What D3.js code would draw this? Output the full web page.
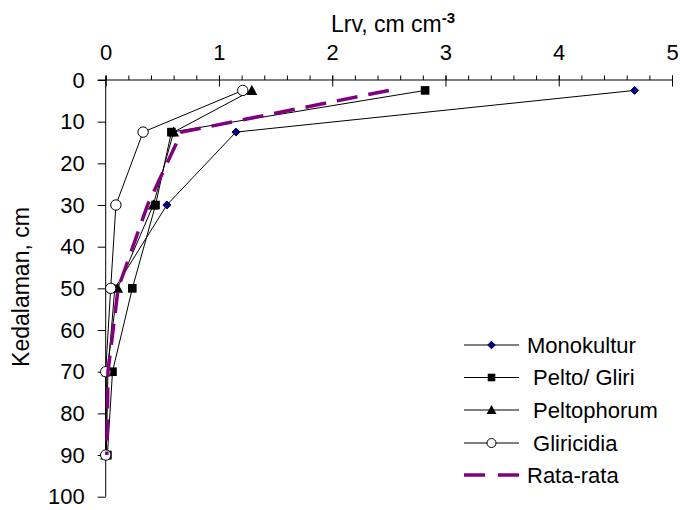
<!DOCTYPE html>
<html>
<head>
<meta charset="utf-8">
<script src="https://cdn.jsdelivr.net/npm/d3@7"></script>
<style>
  html, body { margin: 0; padding: 0; background: #fff; }
  svg { display: block; font-family: "Liberation Sans", Arial, sans-serif; }
</style>
</head>
<body>
<svg id="chart" width="680" height="510"></svg>
<script>
// ---- data ----
const depths = [2.5, 12.5, 30, 50, 70, 90];
const monokultur  = [4.67, 1.15, 0.54, 0.08, 0.02, 0.005];
const peltoGliri  = [2.82, 0.58, 0.44, 0.235, 0.06, 0.015];
const peltophorum = [1.29, 0.60, 0.42, 0.105, 0.01, 0.0];
const gliricidia  = [1.21, 0.33, 0.09, 0.044, 0.0, 0.0];
const rataRata    = [2.50, 0.67, 0.37, 0.11, 0.02, 0.01];
const seriesNames = ["Monokultur", " Pelto/ Gliri", " Peltophorum", " Gliricidia", "Rata-rata"];
const xMajorTicks = [0, 1, 2, 3, 4, 5];
const yTicks = [0, 10, 20, 30, 40, 50, 60, 70, 80, 90, 100];

const svg = d3.select("#chart");
const x = d3.scaleLinear().domain([0, 5]).range([105.7, 672]);
const y = d3.scaleLinear().domain([0, 100]).range([80, 496.7]);

const series = [
  {name: seriesNames[0], vals: monokultur, marker: "diamond"},
  {name: seriesNames[1], vals: peltoGliri, marker: "square"},
  {name: seriesNames[2], vals: peltophorum, marker: "triangle"},
  {name: seriesNames[3], vals: gliricidia, marker: "circle"},
];

// ---- axes ----
const xMinor = svg.append("g").attr("transform", `translate(0,${y(0)})`)
  .call(d3.axisTop(x).tickValues(d3.range(0, 26).map(i => i / 5)).tickSize(4.5).tickFormat(""));
const xMajor = svg.append("g").attr("transform", `translate(0,${y(0)})`)
  .call(d3.axisTop(x).tickValues(xMajorTicks).tickSize(4.5).tickPadding(16).tickFormat(d3.format("d")));
const xMajorDown = svg.append("g").attr("transform", `translate(0,${y(0)})`)
  .call(d3.axisTop(x).tickValues(xMajorTicks).tickSize(-6.5).tickFormat(""));
xMajorDown.select(".domain").remove();
xMinor.select(".domain").attr("d", `M${x(0) - 8},0H${x(5)}`);
xMajor.select(".domain").remove();
[xMinor, xMajor, xMajorDown].forEach(g => {
  g.selectAll("line").attr("stroke", "#000").attr("stroke-width", 1);
  g.selectAll("path").attr("stroke", "#000");
});
xMajor.selectAll("text").attr("font-size", 22).attr("fill", "#000").attr("font-family", "Liberation Sans, Arial");

const yAxis = svg.append("g").attr("transform", `translate(${x(0)},0)`)
  .call(d3.axisLeft(y).tickValues(yTicks).tickSize(8).tickPadding(13));
yAxis.select(".domain").attr("d", `M0,${y(0) - 4}V${y(100)}`).attr("stroke", "#000");
yAxis.selectAll("line").attr("stroke", "#000");
yAxis.selectAll("text").attr("font-size", 22).attr("fill", "#000").attr("font-family", "Liberation Sans, Arial");

// ---- titles ----
const xt = svg.append("text").attr("x", 331).attr("y", 32).attr("font-size", 23).attr("fill", "#000");
xt.append("tspan").text("Lrv, cm cm");
xt.append("tspan").text("-3").attr("font-size", 15).attr("font-weight", "bold").attr("dy", -9);

svg.append("text").attr("transform", `translate(29,287) rotate(-90)`)
  .attr("text-anchor", "middle").attr("font-size", 23).attr("fill", "#000")
  .text("Kedalaman, cm");

// ---- markers ----
function drawMarker(g, type, cx, cy, s) {
  if (type === "diamond") {
    g.append("path").attr("d", `M${cx},${cy - s}L${cx + s},${cy}L${cx},${cy + s}L${cx - s},${cy}Z`)
      .attr("fill", "#000080").attr("stroke", "#00004d").attr("stroke-width", 1);
  } else if (type === "square") {
    g.append("rect").attr("x", cx - s).attr("y", cy - s).attr("width", 2 * s).attr("height", 2 * s)
      .attr("fill", "#000");
  } else if (type === "triangle") {
    g.append("path").attr("d", `M${cx},${cy - s * 1.1}L${cx + s * 1.1},${cy + s * 0.9}L${cx - s * 1.1},${cy + s * 0.9}Z`)
      .attr("fill", "#000");
  } else if (type === "circle") {
    g.append("circle").attr("cx", cx).attr("cy", cy).attr("r", s)
      .attr("fill", "#fff").attr("stroke", "#000").attr("stroke-width", 1);
  }
}
const sizes = {diamond: 4, square: 4.3, triangle: 5, circle: 5.2};

const line = d3.line().x(d => x(d[0])).y(d => y(d[1]));
const plot = svg.append("g");
series.forEach(s => {
  const pts = s.vals.map((v, i) => [v, depths[i]]);
  plot.append("path").attr("d", line(pts)).attr("fill", "none").attr("stroke", "#000").attr("stroke-width", 1);
});
series.forEach(s => {
  const g = plot.append("g");
  s.vals.forEach((v, i) => drawMarker(g, s.marker, x(v), y(depths[i]), sizes[s.marker]));
});
plot.append("path").attr("d", line(rataRata.map((v, i) => [v, depths[i]])))
  .attr("fill", "none").attr("stroke", "#800080").attr("stroke-width", 3.5).attr("stroke-dasharray", "21,11");

// ---- legend ----
const leg = svg.append("g");
const legY = [345, 377.5, 410, 443, 475];
series.forEach((s, i) => {
  leg.append("line").attr("x1", 464).attr("x2", 519).attr("y1", legY[i]).attr("y2", legY[i])
    .attr("stroke", "#000").attr("stroke-width", 1);
  drawMarker(leg, s.marker, 491.5, legY[i], s.marker === "circle" ? 4.5 : (s.marker === "triangle" ? 4.5 : 3.8));
  leg.append("text").attr("x", 527).attr("y", legY[i]).attr("dy", "0.36em").attr("font-size", 22)
    .attr("fill", "#000").attr("xml:space", "preserve").style("white-space", "pre").text(s.name);
});
leg.append("line").attr("x1", 464).attr("x2", 519).attr("y1", legY[4]).attr("y2", legY[4])
  .attr("stroke", "#800080").attr("stroke-width", 3.5).attr("stroke-dasharray", "21,13");
leg.append("text").attr("x", 527).attr("y", legY[4]).attr("dy", "0.36em").attr("font-size", 22)
  .attr("fill", "#000").text(seriesNames[4]);
</script>
</body>
</html>
